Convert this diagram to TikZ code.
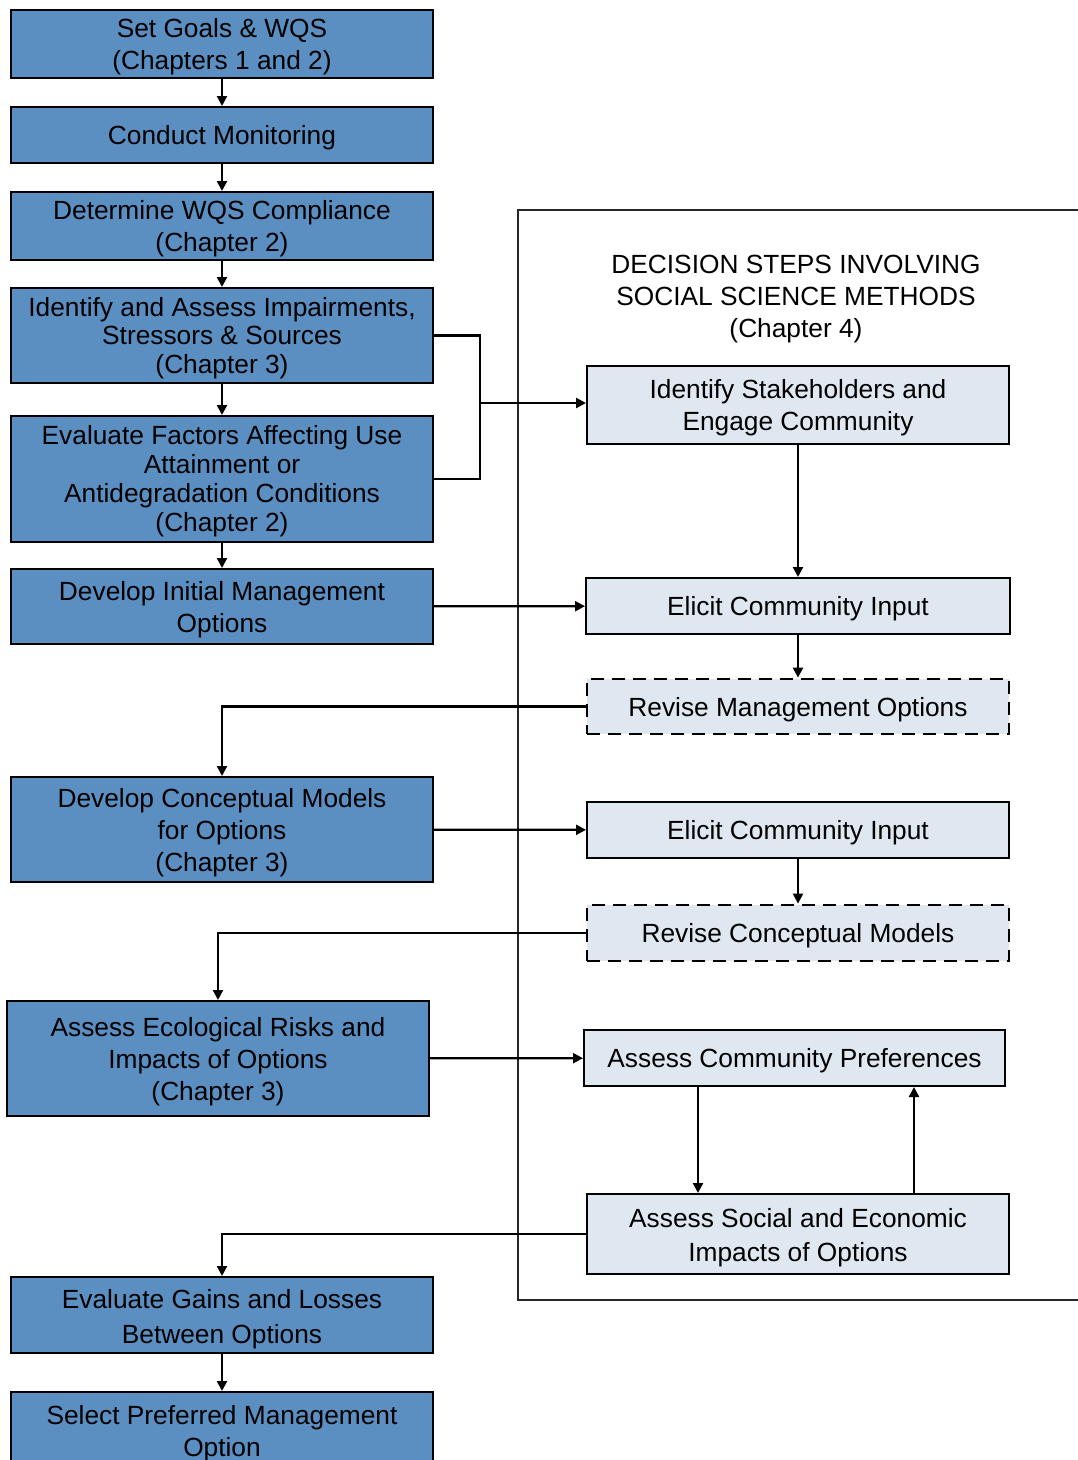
\documentclass[tikz,border=0pt]{standalone}
\usepackage{fontspec}
\setmainfont{Liberation Sans}
\usetikzlibrary{arrows.meta}
\definecolor{stepblue}{RGB}{91,142,193}
\definecolor{socialblue}{RGB}{223,231,241}
% text block set a little below the box centre
\newcommand{\steplines}[1]{\raisebox{-3.5pt}[\height][\depth]{\begin{tabular}{@{}c@{}}#1\end{tabular}}}

\begin{document}
\begin{tikzpicture}[
    x=1pt, y=-1pt, % pixel grid of the figure, y pointing down
    every node/.style={font=\fontsize{26.3}{32}\selectfont, align=center, inner sep=0pt},
    stepbox/.style={draw, line width=2pt, fill=stepblue, minimum width=422pt},
    socialbox/.style={draw, line width=2pt, fill=socialblue, minimum width=422pt},
    revisebox/.style={socialbox, dash pattern=on 13pt off 8pt, line width=2.8pt},
    arrow/.style={-{Triangle[length=10pt,width=10pt]}, line width=2.2pt},
    link/.style={line width=2.2pt}
]
    \useasboundingbox (0,0) rectangle (1078,1460);

    % Panel of the social science steps
    \draw[line width=1.3pt, black!85] (518,210) rectangle (1100,1300);
    \node (heading) at (796,296) {\steplines{DECISION STEPS INVOLVING\\SOCIAL SCIENCE METHODS\\(Chapter 4)}};

    % Main steps
    \node[stepbox, minimum height=68pt] (goals) at (222,44) {\steplines{Set Goals \& WQS\\(Chapters 1 and 2)}};
    \node[stepbox, minimum height=56pt] (monitor) at (222,135) {\steplines{Conduct Monitoring}};
    \node[stepbox, minimum height=68pt] (comply) at (222,226) {\steplines{Determine WQS Compliance\\(Chapter 2)}};
    \node[stepbox, minimum height=95pt, font=\fontsize{26.3}{28.5}\selectfont] (impair) at (222,335.5) {\steplines{Identify and Assess Impairments,\\Stressors \& Sources\\(Chapter 3)}};
    \node[stepbox, minimum height=126pt, font=\fontsize{26.3}{29}\selectfont] (factors) at (222,479) {\steplines{Evaluate Factors Affecting Use\\Attainment or\\Antidegradation Conditions\\(Chapter 2)}};
    \node[stepbox, minimum height=75pt] (initial) at (222,606.5) {\steplines{Develop Initial Management\\Options}};
    \node[stepbox, minimum height=105pt] (concept) at (222,829.5) {\steplines{Develop Conceptual Models\\for Options\\(Chapter 3)}};
    \node[stepbox, minimum height=115pt] (ecorisk) at (218,1058.5) {\steplines{Assess Ecological Risks and\\Impacts of Options\\(Chapter 3)}};
    \node[stepbox, minimum height=76pt, font=\fontsize{26.3}{35}\selectfont] (gains) at (222,1315) {\steplines{Evaluate Gains and Losses\\Between Options}};
    \node[stepbox, minimum height=78pt] (select) at (222,1431) {\steplines{Select Preferred Management\\Option}};

    % Social science steps
    \node[socialbox, minimum height=78pt] (stake) at (798,405) {\steplines{Identify Stakeholders and\\Engage Community}};
    \node[socialbox, minimum height=56pt, minimum width=424pt] (elicitA) at (798,606) {\steplines{Elicit Community Input}};
    \node[revisebox, minimum height=55pt] (revmgmt) at (798,706.5) {\steplines{Revise Management Options}};
    \node[socialbox, minimum height=56pt] (elicitB) at (798,830) {\steplines{Elicit Community Input}};
    \node[revisebox, minimum height=56pt] (revmodel) at (798,933) {\steplines{Revise Conceptual Models}};
    \node[socialbox, minimum height=56pt, minimum width=421pt] (prefs) at (794.5,1058) {\steplines{Assess Community Preferences}};
    \node[socialbox, minimum height=80pt, minimum width=422pt, font=\fontsize{26.3}{34}\selectfont] (impacts) at (798,1234) {\steplines{Assess Social and Economic\\Impacts of Options}};

    % Main sequence
    \draw[arrow] (goals) -- (monitor);
    \draw[arrow] (monitor) -- (comply);
    \draw[arrow] (comply) -- (impair);
    \draw[arrow] (impair) -- (factors);
    \draw[arrow] (factors) -- (initial);
    \draw[arrow] (gains) -- (select);

    % Bracket into the panel
    \coordinate (join) at (480,403);
    \draw[link] (impair.east) -| (join) |- (factors.east);
    \draw[arrow] (join) -- (join -| stake.west);

    % Across and back
    \draw[arrow] (stake) -- (elicitA);
    \draw[arrow] (initial) -- (elicitA);
    \draw[arrow] (elicitA) -- (revmgmt);
    \draw[arrow] (revmgmt.west) -| (concept.north);
    \draw[arrow] (concept) -- (elicitB);
    \draw[arrow] (elicitB) -- (revmodel);
    \draw[arrow] (revmodel.west) -| (ecorisk.north);
    \draw[arrow] (ecorisk) -- (prefs);
    \draw[arrow] ([xshift=-96.5pt]prefs.south) -- ([xshift=-96.5pt]prefs.south |- impacts.north);
    \draw[arrow] ([xshift=119.5pt]prefs.south |- impacts.north) -- ([xshift=119.5pt]prefs.south);
    \draw[arrow] (impacts.west) -| (gains.north);
\end{tikzpicture}
\end{document}
